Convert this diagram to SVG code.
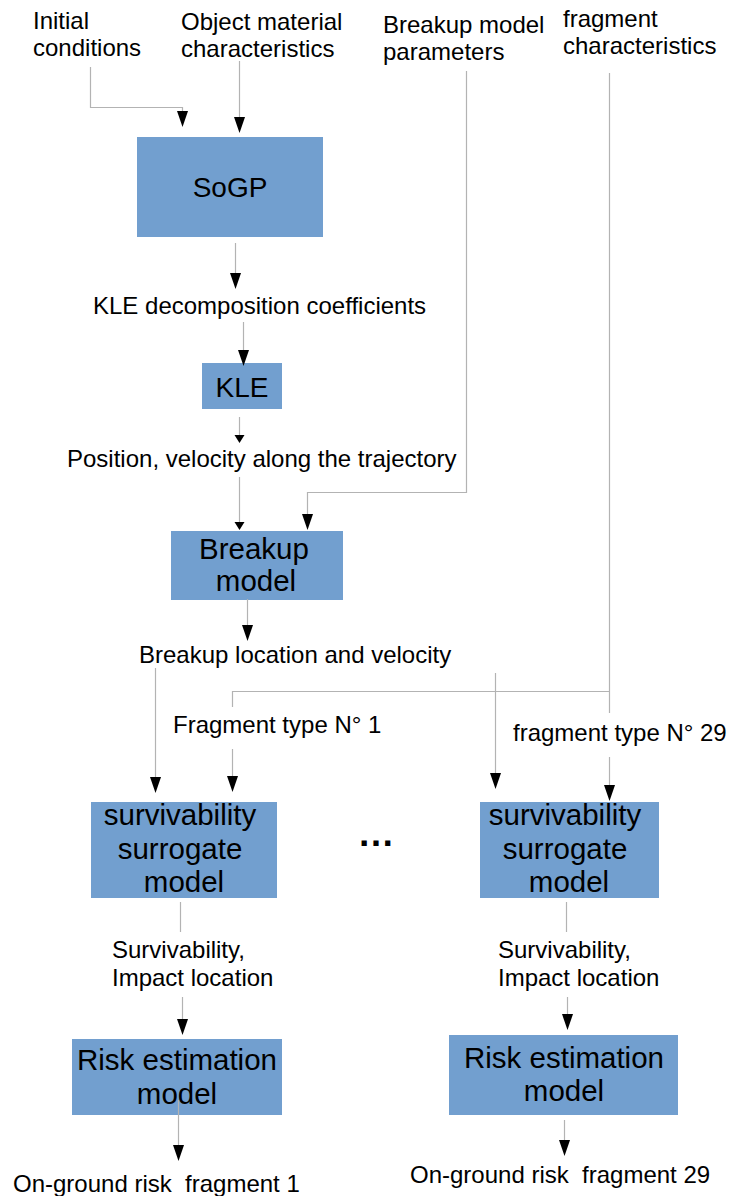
<svg xmlns="http://www.w3.org/2000/svg" xmlns:xlink="http://www.w3.org/1999/xlink" width="730" height="1196" viewBox="0 0 730 1196">
<style>
text{font-family:"Liberation Sans",Arial,sans-serif;fill:#000}
.l{font-size:24px}
.b{font-size:28px;text-anchor:middle}
.box{fill:#729fcf}
.c{fill:none;stroke:#b3b3b3;stroke-width:1.2}
.ah{fill:#000}
</style>
<defs>
<path id="a" d="M-5.5,-16 L5.5,-16 L0,0 Z"/>
<path id="s" d="M-5,-8 L5,-8 L0,0 Z"/>
</defs>
<rect width="730" height="1196" fill="#fff"/>
<g id="labels">
<text class="l" x="33" y="29">Initial</text>
<text class="l" x="33" y="56">conditions</text>
<text class="l" x="181" y="30">Object material</text>
<text class="l" x="181" y="57">characteristics</text>
<text class="l" x="383" y="33">Breakup model</text>
<text class="l" x="383" y="60">parameters</text>
<text class="l" x="563" y="27">fragment</text>
<text class="l" x="563" y="54">characteristics</text>
<text class="l" x="93" y="314">KLE decomposition coefficients</text>
<text class="l" x="67" y="467">Position, velocity along the trajectory</text>
<text class="l" x="139" y="663">Breakup location and velocity</text>
<text class="l" x="173" y="733">Fragment type N° 1</text>
<text class="l" x="513" y="741">fragment type N° 29</text>
<text class="l" x="112" y="958">Survivability,</text>
<text class="l" x="112" y="986">Impact location</text>
<text class="l" x="498" y="958">Survivability,</text>
<text class="l" x="498" y="986">Impact location</text>
<text class="l" x="13" y="1192" xml:space="preserve">On-ground risk  fragment 1</text>
<text class="l" x="410" y="1183" xml:space="preserve">On-ground risk  fragment 29</text>
<text x="376" y="846" style="font-size:37px;font-weight:bold;text-anchor:middle">…</text>
</g>
<g id="sogp"><rect class="box" x="137" y="137" width="186" height="100"/><text class="b" x="230" y="197">SoGP</text></g>
<g id="kle"><rect class="box" x="202" y="363" width="80" height="46"/><text class="b" x="242" y="397">KLE</text></g>
<g id="breakup"><rect class="box" x="171" y="531" width="172" height="69"/><text class="b" x="254" y="559" style="font-size:29.5px">Breakup</text><text class="b" x="256" y="591" style="font-size:29.5px">model</text></g>
<g id="surv1"><rect class="box" x="91" y="802" width="186" height="96"/><text class="b" x="180" y="825" style="font-size:29.5px">survivability</text><text class="b" x="180" y="859" style="font-size:29.5px">surrogate</text><text class="b" x="184" y="892" style="font-size:29.5px">model</text></g>
<g id="surv29"><rect class="box" x="480" y="802" width="179" height="96"/><text class="b" x="565" y="825" style="font-size:29.5px">survivability</text><text class="b" x="565" y="859" style="font-size:29.5px">surrogate</text><text class="b" x="569" y="892" style="font-size:29.5px">model</text></g>
<g id="risk1"><rect class="box" x="72" y="1039" width="210" height="76"/><text class="b" x="177" y="1070" style="font-size:29.5px">Risk estimation</text><text class="b" x="177" y="1104" style="font-size:29.5px">model</text></g>
<g id="risk29"><rect class="box" x="449" y="1035" width="229" height="80"/><text class="b" x="564" y="1068" style="font-size:29.5px">Risk estimation</text><text class="b" x="564" y="1101" style="font-size:29.5px">model</text></g>
<g id="connectors">
<path class="c" d="M90.5,67 V107.5 H182.5 V112"/>
<use class="ah" xlink:href="#a" x="182.5" y="127"/>
<path class="c" d="M239.5,61 V118"/>
<use class="ah" xlink:href="#a" x="239.5" y="133"/>
<path class="c" d="M235.5,243 V274"/>
<use class="ah" xlink:href="#a" x="235.5" y="289"/>
<path class="c" d="M243.5,322 V351"/>
<use class="ah" xlink:href="#a" x="243.5" y="366"/>
<path class="c" d="M239.5,417 V436"/>
<use class="ah" xlink:href="#s" x="239.5" y="443"/>
<path class="c" d="M239.5,477 V523"/>
<use class="ah" xlink:href="#s" x="239.5" y="530"/>
<path class="c" d="M466.5,71 V492.5 H307.5 V515"/>
<use class="ah" xlink:href="#a" x="307.5" y="530"/>
<path class="c" d="M247.5,599 V626"/>
<use class="ah" xlink:href="#a" x="247.5" y="641"/>
<path class="c" d="M155.5,668 V778"/>
<use class="ah" xlink:href="#a" x="155.5" y="793"/>
<path class="c" d="M609.5,73 V713 M609.5,691.5 H232.5 V707"/>
<path class="c" d="M232.5,749 V777"/>
<use class="ah" xlink:href="#a" x="232.5" y="792"/>
<path class="c" d="M609.5,757 V785"/>
<use class="ah" xlink:href="#a" x="609.5" y="801"/>
<path class="c" d="M495.5,673 V773"/>
<use class="ah" xlink:href="#a" x="495.5" y="789"/>
<path class="c" d="M180.5,902 V932"/>
<path class="c" d="M182.5,997 V1019"/>
<use class="ah" xlink:href="#a" x="182.5" y="1035"/>
<path class="c" d="M566.5,902 V932"/>
<path class="c" d="M567.5,997 V1015"/>
<use class="ah" xlink:href="#a" x="567.5" y="1030"/>
<path class="c" d="M178.5,1100 V1145"/>
<use class="ah" xlink:href="#a" x="178.5" y="1161"/>
<path class="c" d="M564.5,1120 V1140"/>
<use class="ah" xlink:href="#a" x="564.5" y="1156"/>
</g>
</svg>
